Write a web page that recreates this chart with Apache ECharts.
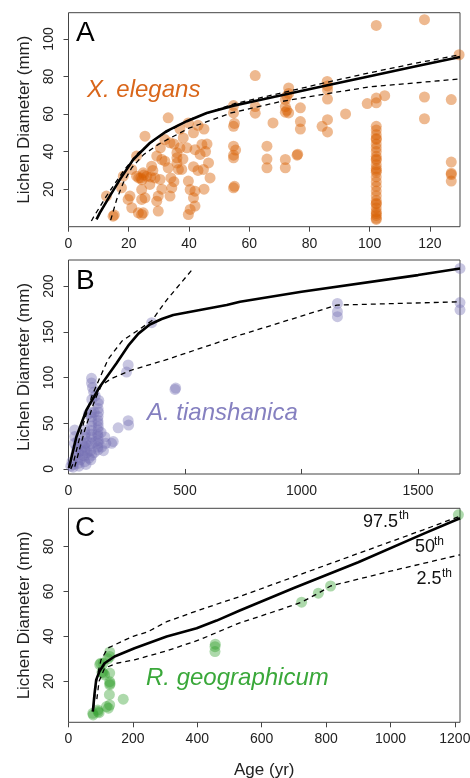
<!DOCTYPE html>
<html><head><meta charset="utf-8">
<script src="https://cdn.jsdelivr.net/npm/echarts@6/dist/echarts.min.js"></script>
<style>html,body{margin:0;padding:0;background:#fff}#c{width:470px;height:778px}</style>
</head><body><div id="c"></div>
<script>
const FONT = '"Liberation Sans", Arial, Helvetica, sans-serif';

// ---------- Panel A: X. elegans ----------
const aXTicks = [0, 20, 40, 60, 80, 100, 120];
const aYTicks = [20, 40, 60, 80, 100];
const elegansPoints = [
  [14.8,5.6],[15.2,6.2],[12.6,16.3],[17.6,20.7],[20.4,16.3],[19.8,14.5],[21,10.1],[18.2,26.9],
  [22.6,37.6],[21,30.5],[22.6,26.9],[24,26],[25,27.5],[24.3,14.5],[23.2,7.4],[24.3,6.5],[24.8,7.4],
  [25.4,48.2],[24.8,28.7],[23.3,26],[24.4,25],[26,26.9],[27.3,26.5],[28.7,26],[30.4,25.2],[27,22.5],
  [24.3,19.8],[25.4,15.4],[29.8,16.3],[29.3,13.6],[33.7,16.3],[29.8,8.3],[34.3,20.7],
  [27.6,32.2],[29.3,37.6],[31,35.8],[32,34.9],[33.1,31.4],[32,46.4],[33.7,44.7],[33.1,58],
  [36,39.4],[36,36.7],[36,33.9],[36.5,30.5],[37.6,30.5],[37,42],[39.3,42],[38.1,47.3],[39.8,55.3],[41.5,50],
  [42,41],[44.3,43.8],[43.7,38.5],[41.5,32],[43,30],[44.8,30.5],[39.8,24.3],[40.4,19.8],[42,18.9],[41.5,15.4],
  [40.4,9.2],[42,11],[39.8,6.5],[35,24],[31,20],[28,30],[34,26],[38,36],
  [46,44],[45.5,40],[46.5,34],[45,20],[47,26],[43,54],[45,52],[37,52],[35,44],[30.5,42],
  [54.8,60.6],[54.8,64.5],[54.8,53.5],[55.1,55],[54.8,42.9],[55.5,40.8],[54.8,38.1],[54.8,36.7],[54.8,20.7],[55.1,21.5],
  [62,80.5],[62,64],[62,60.5],[67.9,55.3],[65.9,42.9],[65.9,36],[65.9,31.4],
  [72,67.7],[72,64],[72.5,62],[73.1,60.6],[72,61],[73.1,73.9],[73.1,71],[72.5,69.5],[72,35.8],[72,31.4],[75.9,38.1],[76.1,38.6],
  [77,63.3],[77,56],[77,52],[85.9,77.4],[86,75],[86,73],[86,68],[84.2,53.5],[86,57],[86,50.5],[92,60.1],
  [99.2,65.6],[102.2,68.5],[102.2,66],[105,69.8],[102.2,107.2],[118.2,110.3],[129.7,91.6],
  [118.2,69.1],[118.2,57.5],[127.1,67.7],[127.1,34.4],[127.1,27.8],[127.1,28.5],[127.1,24.3],
  [102.2,53.5],[102.2,51.5],[102.2,49],[102.2,47],[102.2,46.5],[102.2,44],[102.2,42],[102.2,40],[102.2,37.5],
  [102.2,36],[102.2,35.5],[102.2,33],[102.2,31],[102.2,30],[102.2,29],[102.2,26.5],[102.2,24],[102.2,21.5],
  [102.2,19],[102.2,16.5],[102.2,14],[102.2,12.5],[102.2,12],[102.2,10],[102.2,8],[102.2,7],[102.2,6],[102.2,4.5],[102.2,3.9]
];
const aMedian = [[9.3,3.9],[10.4,7.4],[13.7,16.3],[17.1,25.2],[21.5,35.8],[27.1,44.7],[32.6,50.9],[39.3,56.2],[45.9,60.6],[54.8,64.5],[65,68],[73,70.8],[86,75.3],[100,80.1],[115,85.3],[130,90.4]];
const aUpper = [[7.6,3],[8.2,4.8],[12.6,16.3],[18.2,29.6],[23.2,39.4],[30,48],[40,57],[55,65.5],[70,71],[86,77],[100,82],[115,87],[130,91.6]];
const aLower = [[14,3.5],[16,14.5],[18.2,23.4],[21,31.4],[25,38.5],[30,44],[40,52.5],[54,60.6],[70,66.5],[86,70.9],[100,74.5],[115,76.6],[130,78.7]];

// ---------- Panel B: A. tianshanica ----------
const bXTicks = [0, 500, 1000, 1500];
const bYTicks = [0, 50, 100, 150, 200];
const tianshanicaPoints = [
  [357,160],[256,113.7],[249,106],[457,87],[460,88.5],
  [256,52.8],[258,48],[213,45],[185,28.1],[192,30],
  [98.8,99.1],[98.8,94],[103,89],[108,84],[115,80],[100,76],
  [127,71.8],[127,66],[129,62],[127,57.3],[126,53],[127,50],[128,46],[127,42.6],[125,38],[127,35.4],[128,31],[127,28.1],[126,24],[127,20.8],[130,75],
  [98.8,62],[98.8,57],[100,52],[98.8,47],[98.8,42],[97,38],[98.8,35],[98.8,28],[95,20],[100,15],[96,10],
  [70,42.6],[72,38],[70,35],[72,28],[70,24],[70,20],[68,14],[70,8],[75,5],[80,18],[82,30],[85,25],[88,12],[85,60],
  [41,31],[41,24],[43,18],[41,12],[41,6],[45,3],[50,10],[55,20],[58,28],[60,15],
  [27,42.6],[27,35.4],[25,28],[20,5],[20,2],[15,8],[30,15],[33,22],[10,3],
  [110,18],[115,30],[156,35],[160,28],[142,24],[150,20],[110,62],[140,40],
  [1154,181],[1154,172],[1154,166.5],[1680,219.3],[1680,182],[1680,174]
];
const bMedian = [[2,1],[5.6,2.5],[34,35.3],[77,64.5],[134.5,90],[206,115.5],[260,136],[300,148],[349,158],[400,164],[449.5,168.3],[564,173.8],[679,179.2],[736,182.8],[1000,193.8],[1500,212],[1680,219.3]];
const bUpper = [[10,0],[20,6],[56,42.6],[99,79],[135,100],[170,120],[230,140],[300,152],[357,162],[421,184.7],[535,219.3]];
const bLower = [[27,2.5],[70,42.6],[113,75.4],[142,91.8],[185,99],[271,108.2],[414,119],[736,146.4],[1152,179.2],[1680,182.8]];

// ---------- Panel C: R. geographicum ----------
const cXTicks = [0, 200, 400, 600, 800, 1000, 1200];
const cYTicks = [20, 40, 60, 80];
const geographicumPoints = [
  [76.6,5],[75.5,5.7],[92,6.5],[91,7.2],[95,6],[118,8.7],[128,9.4],[124,8],[170,12],[127,14],
  [128,18.4],[128,19.8],[129,19],[128,23.6],[112,22.8],[107.6,23.6],[104,24],[97,27.4],[107.6,28],
  [128,31],[128,33],[122,30],[100,28],[455,33.2],[455,35.4],[456,36.5],[724,55.2],[776,59.2],[814,62.4],[1211,94.1]
];
const cMedian = [[75.5,6.5],[81,14.6],[86,20.6],[96,24.3],[112,28],[143,31],[205,34.7],[305,39.9],[398,43.6],[460,47],[532,51.5],[700,61.5],[900,73],[1100,85.5],[1216,92.6]];
const cUpper = [[78,8],[85,18],[92,24],[101,29.5],[122,34.7],[164,37.6],[201,40],[246,42],[305,46.5],[408,51.8],[532,57.7],[700,66.5],[900,76.9],[1100,87.3],[1216,93.5]];
const cLower = [[88,12],[95,20],[112,25.8],[150,28],[205,29.5],[305,33.5],[408,38.5],[532,46],[650,51.5],[724,55.2],[776,59.2],[814,62.4],[1000,69],[1216,76.3]];

const FRAME = '#444';
const grids = [
  {left:68.5, top:12.7, width:391.5, height:214},
  {left:68.5, top:260, width:391.5, height:214},
  {left:68.5, top:508.3, width:391.5, height:214}
];
const plain = v => String(v);

function xAxis(i, min, max, ticks, name) {
  return {
    type:'value', gridIndex:i, min:min, max:max,
    axisLine:{show:false}, splitLine:{show:false},
    axisTick:{show:true, inside:false, length:5, customValues:ticks, lineStyle:{color:FRAME, width:1}},
    axisLabel:{customValues:ticks, formatter:plain, margin:10, fontSize:14, color:'#222', fontFamily:FONT},
    name:name || '', nameLocation:'middle', nameGap:40,
    nameTextStyle:{fontSize:17, color:'#222', fontFamily:FONT}
  };
}
function yAxis(i, min, max, ticks) {
  return {
    type:'value', gridIndex:i, min:min, max:max,
    axisLine:{show:false}, splitLine:{show:false},
    axisTick:{show:true, inside:false, length:5, customValues:ticks, lineStyle:{color:FRAME, width:1}},
    axisLabel:{customValues:ticks, formatter:plain, margin:12, rotate:90, fontSize:14, color:'#222', fontFamily:FONT},
    name:'Lichen Diameter (mm)', nameLocation:'middle', nameGap:36, nameRotate:90,
    nameTextStyle:{fontSize:17, color:'#222', fontFamily:FONT}
  };
}
function scatter(i, data, color) {
  return {type:'scatter', xAxisIndex:i, yAxisIndex:i, data:data, symbolSize:11, silent:true,
    itemStyle:{color:color}, z:2};
}
function line(i, data, dashed) {
  return {type:'line', xAxisIndex:i, yAxisIndex:i, data:data, symbol:'none', showSymbol:false, silent:true,
    lineStyle: dashed ? {color:'#000', width:1.3, type:[5,4]} : {color:'#000', width:2.6}, z:3};
}
function txt(x, y, s, size, color, italic) {
  return {type:'text', x:x, y:y, silent:true, z:10,
    style:{text:s, fill:color, font:(italic ? 'italic ' : '') + size + 'px ' + FONT,
      align:'left', verticalAlign:'middle', textAlign:'left', textVerticalAlign:'middle'}};
}

const chart = echarts.init(document.getElementById('c'), null, {renderer:'canvas'});
chart.setOption({
  animation:false,
  backgroundColor:'#fff',
  grid: grids.map(g => Object.assign({show:true, borderColor:FRAME, borderWidth:1, backgroundColor:'transparent', containLabel:false, outerBoundsMode:'none'}, g)),
  xAxis:[ xAxis(0, 0, 130, aXTicks), xAxis(1, 0, 1680, bXTicks), xAxis(2, 0, 1216, cXTicks, 'Age (yr)') ],
  yAxis:[ yAxis(0, 0, 114, aYTicks), yAxis(1, -5.5, 228.5, bYTicks), yAxis(2, 1.7, 97, cYTicks) ],
  series:[
    scatter(0, elegansPoints, 'rgba(217,95,2,0.55)'),
    line(0, aUpper, true), line(0, aLower, true), line(0, aMedian, false),
    scatter(1, tianshanicaPoints, 'rgba(117,112,179,0.5)'),
    line(1, bUpper, true), line(1, bLower, true), line(1, bMedian, false),
    scatter(2, geographicumPoints, 'rgba(51,160,44,0.5)'),
    line(2, cUpper, true), line(2, cLower, true), line(2, cMedian, false)
  ],
  graphic:[
    txt(76, 33, 'A', 28, '#000'),
    txt(76, 281, 'B', 28, '#000'),
    txt(75, 528.5, 'C', 28, '#000'),
    txt(87, 90, 'X. elegans', 24, '#d9661a', true),
    txt(147, 413, 'A. tianshanica', 24, '#8580c0', true),
    txt(146, 678, 'R. geographicum', 24, '#3aa83a', true),
    txt(363, 522, '97.5', 18, '#111'),
    txt(399, 516, 'th', 12, '#111'),
    txt(415, 547.5, '50', 18, '#111'),
    txt(434, 542, 'th', 12, '#111'),
    txt(416.5, 579.5, '2.5', 18, '#111'),
    txt(442, 574, 'th', 12, '#111')
  ]
});
</script>
</body></html>
